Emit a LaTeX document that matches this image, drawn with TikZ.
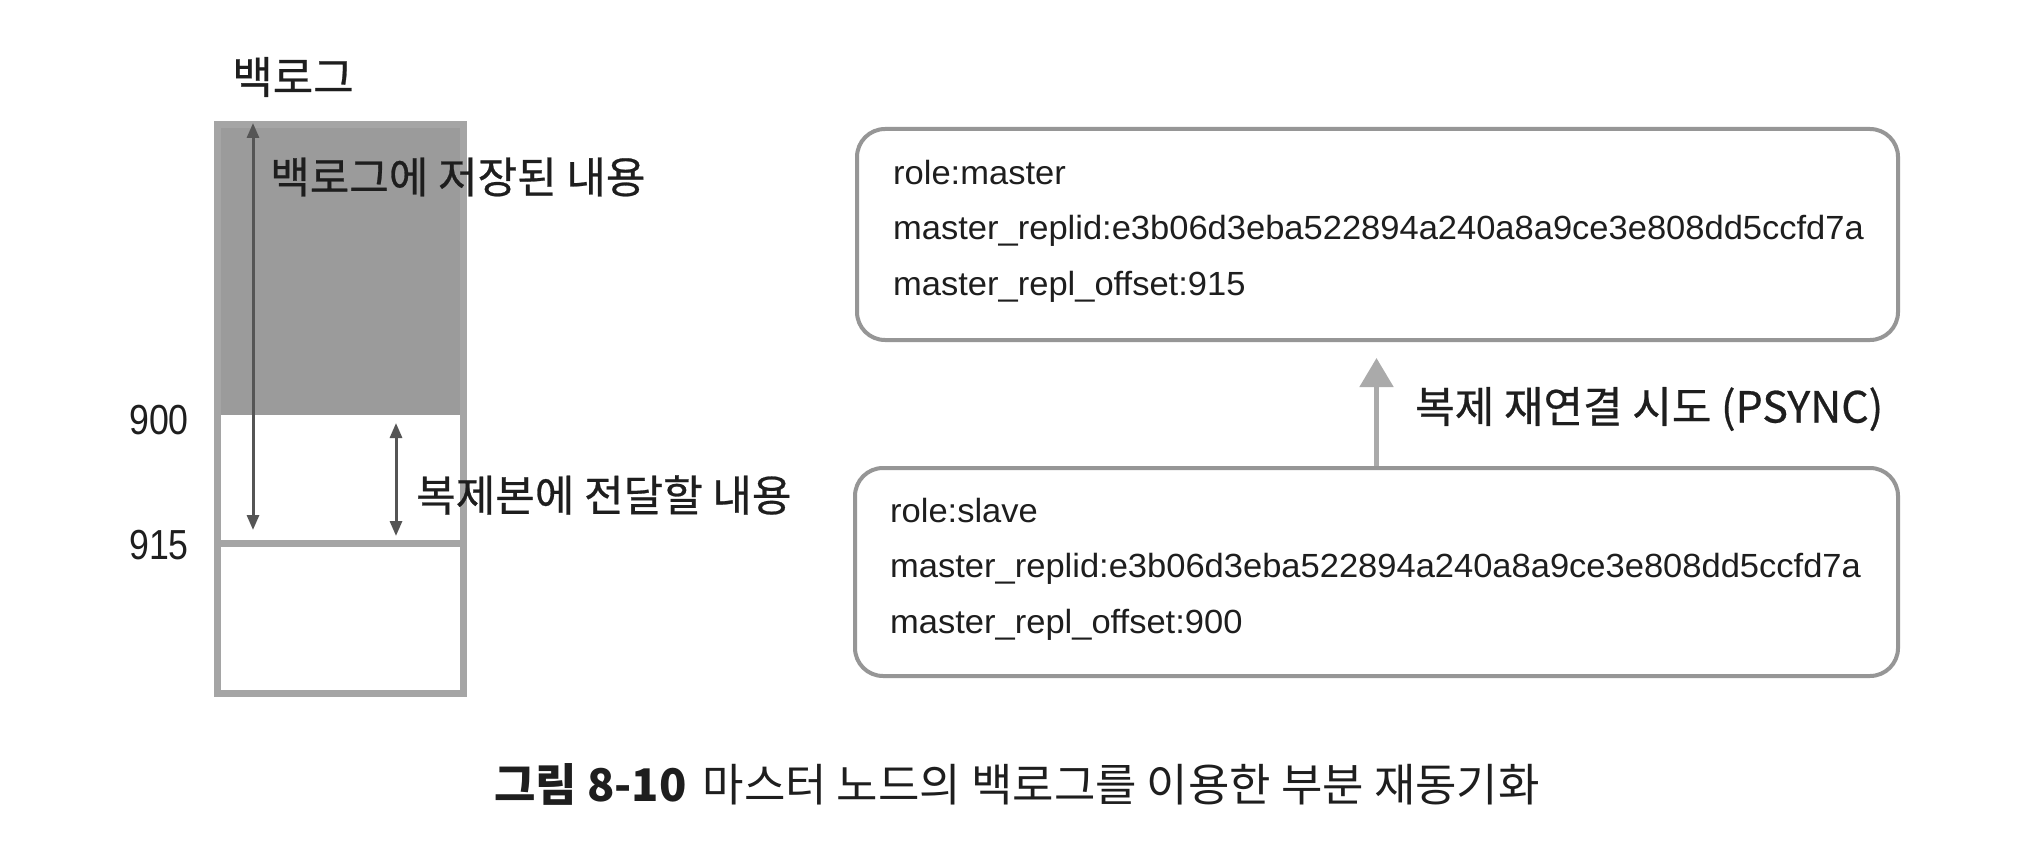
\documentclass[tikz,border=0pt]{standalone}
\usepackage{fontspec}
\setmainfont{Noto Sans CJK KR}
\newfontfamily\kr[FakeBold=0.6]{Noto Sans CJK KR}
\newfontfamily\krcap{Noto Sans CJK KR}
\newfontfamily\numf[FakeStretch=0.85]{Liberation Sans}
\newfontfamily\boxf[FakeStretch=1.03]{Liberation Sans}
\usetikzlibrary{arrows.meta}
\definecolor{fillgray}{RGB}{155,155,155}
\definecolor{linegray}{RGB}{165,165,165}
\definecolor{arrowdark}{RGB}{85,85,85}
\definecolor{boxline}{RGB}{150,150,150}
\definecolor{uparrow}{RGB}{170,170,170}
\definecolor{txt}{RGB}{30,30,30}
\tikzset{
  lbl/.style={inner sep=0pt, text=txt, font=\kr\fontsize{43}{43}\selectfont},
  numlbl/.style={inner sep=0pt, anchor=east, text=txt, font=\numf\fontsize{42}{42}\selectfont},
  rowtxt/.style={inner sep=0pt, anchor=base west, text=txt, font=\boxf\fontsize{33.5}{33.5}\selectfont},
  rbox/.style={draw=boxline, line width=4pt, rounded corners=28pt, inner sep=0pt, fill=white},
  darr/.style={draw=arrowdark, line width=3pt, {Triangle[width=12pt,length=15pt]}-{Triangle[width=12pt,length=15pt]}},
  uparr/.style={draw=uparrow, line width=5pt, -{Triangle[width=33pt,length=29pt]}}
}
\begin{document}
\begin{tikzpicture}[x=1pt,y=-1pt]
\useasboundingbox[fill=white] (0,0) rectangle (2028,864);
% backlog column
\fill[fillgray] (214,121) rectangle (467,415);
\draw[linegray, line width=7pt] (217.5,124.5) rectangle (463.5,693.5);
\draw[linegray, line width=7pt] (214,543.5) -- (467,543.5);
\node[lbl, font=\kr\fontsize{44}{44}\selectfont] (title) at (293,77) {백로그};
\node[lbl, anchor=west] (stored) at (270,177) {백로그에 저장된 내용};
\node[lbl, anchor=west] (send) at (416,495) {복제본에 전달할 내용};
\node[numlbl] (n900) at (189,420) {900};
\node[numlbl] (n915) at (189,545) {915};
\coordinate (a1t) at (253,123);
\coordinate (a1b) at (253,530);
\coordinate (a2t) at (396,423);
\coordinate (a2b) at (396,536);
\draw[darr] (a1t) -- (a1b);
\draw[darr] (a2t) -- (a2b);
% boxes
\node[rbox, minimum width=1041pt, minimum height=211pt] (master) at (1377.5,234.5) {};
\node[rbox, minimum width=1043pt, minimum height=208pt] (slave) at (1376.5,572) {};
\node[rowtxt] (m1) at (893,184) {role:master};
\node[rowtxt] (m2) at (893,239) {master\_replid:e3b06d3eba522894a240a8a9ce3e808dd5ccfd7a};
\node[rowtxt] (m3) at (893,295) {master\_repl\_offset:915};
\node[rowtxt] (s1) at (890,522) {role:slave};
\node[rowtxt] (s2) at (890,577) {master\_replid:e3b06d3eba522894a240a8a9ce3e808dd5ccfd7a};
\node[rowtxt] (s3) at (890,633) {master\_repl\_offset:900};
\coordinate (tip) at (1376.5,358);
\draw[uparr] (slave.north) -- (tip);
\node[lbl, anchor=west] (psync) at (1415,409) {복제 재연결 시도 (PSYNC)};
% caption
\node[inner sep=0pt, anchor=west, text=txt, font=\krcap\fontsize{45}{45}\selectfont] (cap) at (494,784) {\textbf{그림 8-10}\hspace{16pt}마스터 노드의 백로그를 이용한 부분 재동기화};
\end{tikzpicture}
\end{document}
